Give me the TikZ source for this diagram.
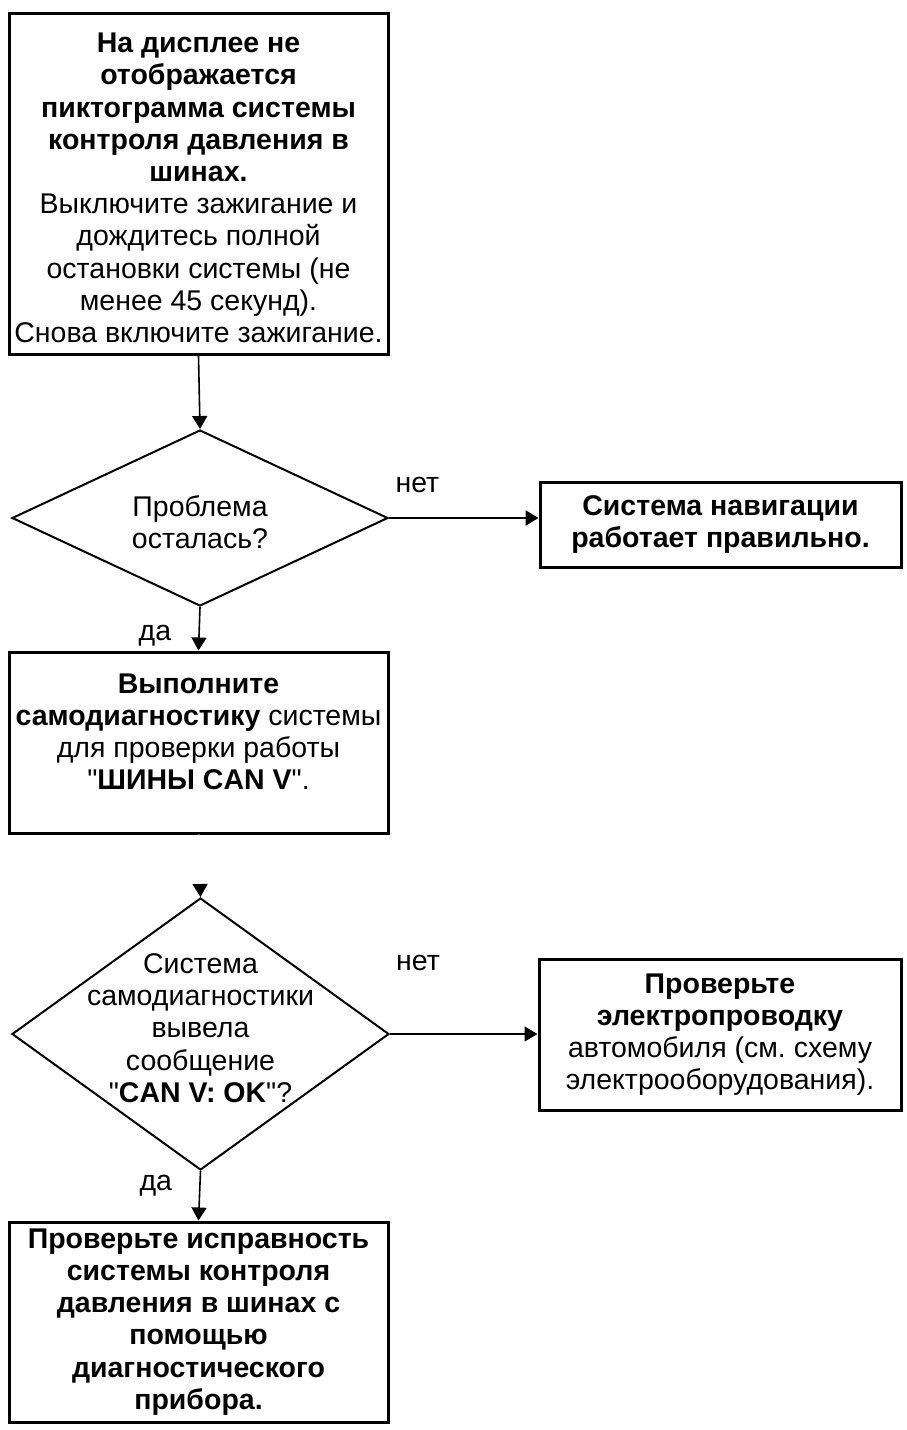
\documentclass[tikz,border=0pt]{standalone}
\usepackage{fontspec}
\setmainfont{Liberation Sans}[Ligatures=TeXOff]
\usetikzlibrary{arrows.meta,shapes.geometric}
\newcommand\fsz{\fontsize{28.5}{32.2}\selectfont\frenchspacing}
\begin{document}
\begin{tikzpicture}[x=1pt,y=-1pt,
  box/.style={draw, line width=3pt, inner sep=0pt, align=center, font=\fsz},
  dia/.style={draw, diamond, line width=2pt, inner sep=0pt},
  dtext/.style={align=center, inner sep=0pt, font=\fsz},
  btext/.style={align=center, inner sep=0pt, font=\fsz},
  conn/.style={line width=1.6pt, -{Triangle[length=13pt,width=15pt]}},
  hconn/.style={line width=2.4pt, -{Triangle[length=13pt,width=15pt]}},
  lbl/.style={font=\fsz, inner sep=0pt}]
\useasboundingbox (0,0) rectangle (906,1430);
% boxes
\node[box, minimum width=379pt, minimum height=341pt] (b1) at (198.5,183.5) {};
\node[btext] (b1t) at (198.5,188)
 {\textbf{На дисплее не}\\ \textbf{отображается}\\ \textbf{пиктограмма системы}\\
  \textbf{контроля давления в}\\ \textbf{шинах.}\\ Выключите зажигание и\\
  дождитесь полной\\ остановки системы (не\\ менее 45 секунд).\\ Снова включите зажигание.};
\node[dia, minimum width=376pt, minimum height=176pt] (d1) at (200,518) {};
\node[dtext] (d1t) at (200,522) {Проблема\\осталась?};
\node[box, minimum width=361pt, minimum height=85pt] (b2) at (720.5,524.5)
 {\textbf{Система навигации}\\ \textbf{работает правильно.}};
\node[box, minimum width=379pt, minimum height=181pt] (b3) at (198.5,742.5) {};
\node[btext] (b3t) at (198.5,732)
 {\textbf{Выполните}\\ \textbf{самодиагностику} системы\\ для проверки работы\\ "\textbf{ШИНЫ CAN V}".};
\node[dia, minimum width=377pt, minimum height=272pt] (d2) at (200.5,1034) {};
\node[dtext] (d2t) at (200.5,1028) {Система\\самодиагностики\\вывела\\сообщение\\"\textbf{CAN V: OK}"?};
\node[box, minimum width=362pt, minimum height=151pt] (b5) at (720,1034.5)
 {\textbf{Проверьте}\\ \textbf{электропроводку}\\ автомобиля (см. схему\\ электрооборудования).};
\node[box, minimum width=379pt, minimum height=200pt] (b4) at (198.5,1322)
 {\textbf{Проверьте исправность}\\ \textbf{системы контроля}\\ \textbf{давления в шинах с}\\
  \textbf{помощью}\\ \textbf{диагностического}\\ \textbf{прибора.}};
% connectors
\draw[conn] (b1.south) -- (d1.north);
\draw[hconn] (d1.east) -- (d1.east -| b2.west) node[lbl, pos=0.19, above=24pt] (n1) {нет};
\draw[conn] (d1.south) -- (b3.north) node[lbl, pos=0.65, left=27pt] (y1) {да};
\draw[line width=1.6pt, white, -{Triangle[length=13pt,width=15pt,black]}] (b3.south) -- (d2.north);
\draw[conn] (d2.east) -- (d2.east -| b5.west) node[lbl, pos=0.19, above=62pt] (n2) {нет};
\draw[conn] (d2.south) -- (b4.north) node[lbl, pos=0.3, left=27pt] (y2) {да};
\end{tikzpicture}
\end{document}
